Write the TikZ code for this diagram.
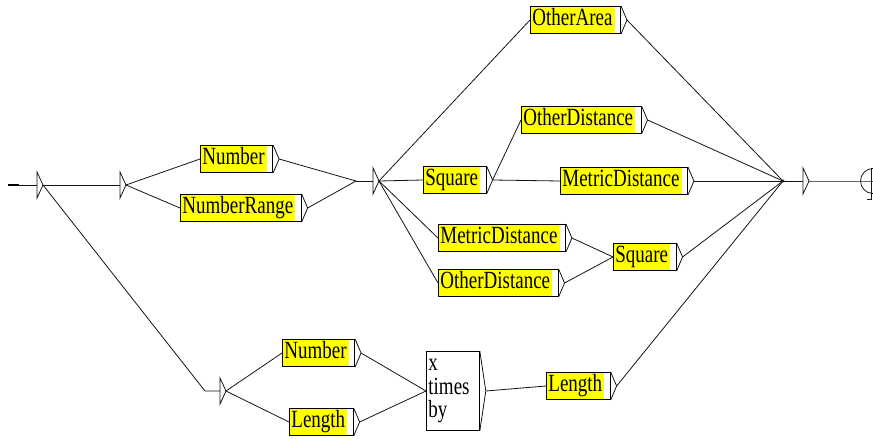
\documentclass[tikz,border=0pt]{standalone}
\usepackage{fontspec}
\setmainfont{Liberation Serif}
\usetikzlibrary{calc}
\definecolor{cBoxFill}{RGB}{255, 255, 0}
\definecolor{cBoxDraw}{RGB}{0, 0, 0}
\definecolor{lineColor}{RGB}{20, 20, 20}
\tikzset{
    font=\fontsize{19}{23}\selectfont,
    % boîte d'appel de sous-graphe (jaune)
    callBox/.style={
        rectangle, draw=cBoxDraw, fill=cBoxFill, line width=0.8pt,
        anchor=west, yscale=1.3, inner xsep=2pt, inner ysep=0pt,
        text height=13pt, text depth=4pt, minimum height=20.8pt,
        execute at end node={\hspace{6pt}},
        path picture={
            \fill[white] ([xshift=-6pt]path picture bounding box.south east)
                rectangle (path picture bounding box.north east);
        }
    },
    % boîte de mots (blanche)
    wordBox/.style={
        rectangle, draw=cBoxDraw, fill=white, line width=0.8pt,
        anchor=west, yscale=1.3, inner xsep=2pt, inner ysep=0pt,
        align=left, text width=49pt, minimum height=60.8pt,
        font=\fontsize{19}{17.7}\selectfont
    },
    conn/.style={draw=lineColor, line width=0.8pt}
}
% sortie d'une boite : le petit chevron a droite
\newcommand{\outCue}[1]{%
    \coordinate (#1-o) at ([xshift=6pt]#1.east);
    \draw [conn] (#1.north east) -- (#1-o) -- (#1.south east);
}
% boite vide <E> : triangle
\newcommand{\epsCue}[2]{%
    \coordinate (#1) at (#2);
    \coordinate (#1-o) at ([xshift=6pt]#1);
    \draw [conn] ([yshift=13pt]#1) -- ([yshift=-13pt]#1) -- (#1-o) -- cycle;
}

\begin{document}
\begin{tikzpicture}[x=1pt, y=-1pt]

    \useasboundingbox (0,0) rectangle (873,439);

    % ==========================================
    % 1. etat initial et boites vides
    % ==========================================
    \coordinate (init) at (8,185);
    \coordinate (initEnd) at (19,185);
    \epsCue{e1}{37,185}
    \epsCue{e2}{120,185}
    \epsCue{e3}{373,181}
    \epsCue{e4}{220,391}
    \epsCue{e5}{803,181}

    \coordinate (j1) at (356,181);
    \coordinate (j4) at (205,391);
    \coordinate (j2) at (783,181);

    % ==========================================
    % 2. nombres
    % ==========================================
    \node [callBox] (num1) at (200,159) {Number};
    \node [callBox] (numr) at (180,208) {NumberRange};

    % ==========================================
    % 3. aires et distances
    % ==========================================
    \node [callBox] (area) at (530,20) {OtherArea};
    \node [callBox] (sq1) at (423,180) {Square};
    \node [callBox] (odist1) at (521,120) {OtherDistance};
    \node [callBox] (mdist1) at (560,181) {MetricDistance};
    \node [callBox] (mdist2) at (438,238) {MetricDistance};
    \node [callBox] (odist2) at (438,283) {OtherDistance};
    \node [callBox] (sq2) at (613,257) {Square};

    % ==========================================
    % 4. dimensions (x times by)
    % ==========================================
    \node [callBox] (num2) at (282,353) {Number};
    \node [callBox] (len1) at (289,422) {Length};
    \node [wordBox] (xtb) at (426,391) {x\\times\\by};
    \node [callBox] (len2) at (546,386) {Length};

    \foreach \b in {num1, numr, area, sq1, odist1, mdist1, mdist2, odist2, sq2, num2, len1, xtb, len2}
        {\outCue{\b}}

    % ==========================================
    % etat final
    % ==========================================
    \node [circle, draw=lineColor, line width=0.8pt, minimum size=25pt, inner sep=0pt] (fin) at (873,181) {};

    % ==========================================
    % transitions
    % ==========================================
    \draw [line width=2.5pt] (init) -- (initEnd);
    \draw [conn] (initEnd) -- (e1);
    \draw [conn] (e1-o) -- (e2);
    \draw [conn] (e1-o) -- (j4) -- (e4);

    \draw [conn] (e2-o) -- (num1.west);
    \draw [conn] (e2-o) -- (numr.west);
    \draw [conn] (num1-o) -- (j1);
    \draw [conn] (numr-o) -- (j1);
    \draw [conn] (j1) -- (e3);

    \draw [conn] (e3-o) -- (area.west);
    \draw [conn] (e3-o) -- (sq1.west);
    \draw [conn] (e3-o) -- (mdist2.west);
    \draw [conn] (e3-o) -- (odist2.west);

    \draw [conn] (sq1-o) -- (odist1.west);
    \draw [conn] (sq1-o) -- (mdist1.west);
    \draw [conn] (mdist2-o) -- (sq2.west);
    \draw [conn] (odist2-o) -- (sq2.west);

    \draw [conn] (e4-o) -- (num2.west);
    \draw [conn] (e4-o) -- (len1.west);
    \draw [conn] (num2-o) -- (xtb.west);
    \draw [conn] (len1-o) -- (xtb.west);
    \draw [conn] (xtb-o) -- (len2.west);

    \foreach \b in {area, odist1, mdist1, sq2, len2}
        \draw [conn] (\b-o) -- (j2);
    \fill [lineColor] (j2) circle (1.6pt);
    \draw [conn] (j2) -- (e5);
    \draw [conn] (e5-o) -- (fin.center) -- (fin.east);
    \draw [conn] ([xshift=-2pt]fin.north) -- ([xshift=-2pt, yshift=-5pt]fin.south)
        -- ([xshift=-6pt, yshift=-5pt]fin.south);

\end{tikzpicture}
\end{document}
